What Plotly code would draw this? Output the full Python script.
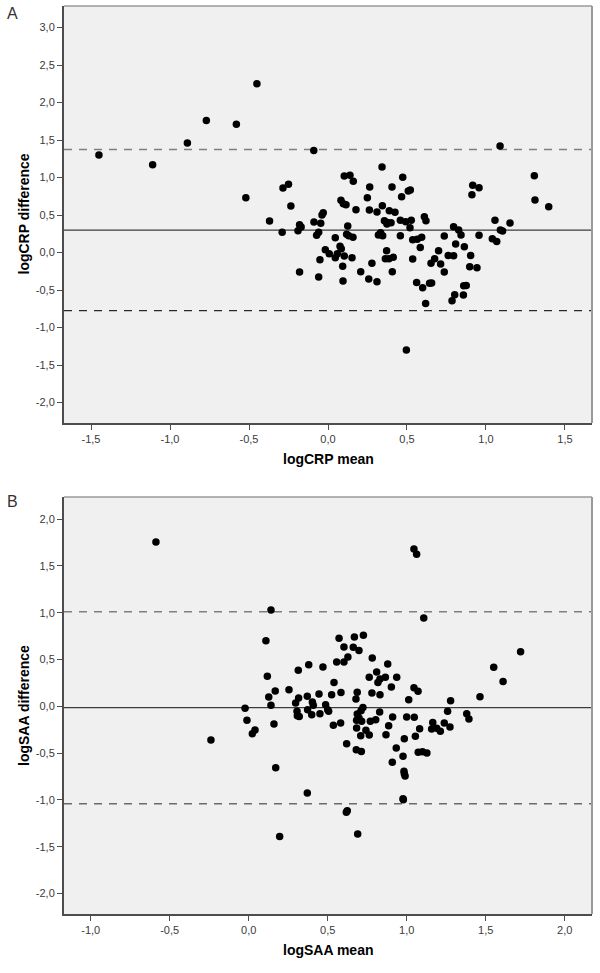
import plotly.graph_objects as go

# ---------------- Data: panel A (logCRP) ----------------
crp_mean = [
    -1.45, -1.11, -0.89, -0.77, -0.58, -0.45, -0.52, -0.37, -0.285, -0.25, -0.235, -0.29, -0.19, -0.18, -0.17, -0.18, -0.09,
    -0.089, -0.046, -0.038, -0.030, -0.059, -0.072, -0.051, -0.059, -0.017, 0.008, 0.046, 0.046, 0.059, 0.076, 0.084,
    0.103, 0.093, 0.095, 0.152, 0.118, 0.131, 0.158, 0.125, 0.082, 0.097, 0.114, 0.103, 0.139, 0.160, 0.177, 0.207,
    0.258, 0.278, 0.310, 0.249, 0.264, 0.262, 0.310, 0.342, 0.344, 0.319, 0.333, 0.346, 0.357, 0.373, 0.375, 0.388,
    0.399, 0.424, 0.371, 0.363, 0.386, 0.413, 0.407, 0.405, 0.473, 0.466, 0.508, 0.521, 0.458, 0.492, 0.527, 0.519,
    0.458, 0.536, 0.565, 0.593, 0.584, 0.536, 0.610, 0.620, 0.561, 0.599, 0.618,
    0.652, 0.643, 0.656, 0.700, 0.675, 0.713, 0.736, 0.736, 0.761, 0.795, 0.795, 0.827, 0.842, 0.808, 0.863, 0.903,
    0.897, 0.943, 0.956, 0.911, 0.916, 0.956, 1.057, 1.091, 1.105, 1.040, 1.068, 1.152, 1.306, 1.310, 1.397,
    0.785, 0.802, 0.857, 0.859, 0.875, 0.496, 1.089,
]
crp_diff = [
    1.30, 1.17, 1.46, 1.76, 1.71, 2.25, 0.73, 0.42, 0.86, 0.91, 0.62, 0.27, 0.29, 0.37, 0.34, -0.26, 1.36,
    0.407, 0.389, 0.50, 0.531, 0.269, 0.229, -0.096, -0.327, 0.037, -0.016, 0.197, -0.069, -0.016, 0.083, 0.051,
    -0.047, -0.184, -0.38, -0.069, 0.243, 0.224, 0.203, 0.353, 0.696, 0.651, 0.638, 1.02, 1.029, 0.949, 0.571, -0.256,
    -0.353, -0.144, -0.389, 0.731, 0.873, 0.567, 0.54, 1.14, 0.624, 0.233, 0.264, 0.224, 0.424, 0.38, 0.40, 0.558,
    0.398, 0.536, 0.024, -0.082, -0.082, -0.064, -0.256, 0.873, 1.003, 0.744, 0.82, 0.833, 0.429, 0.411, 0.429, 0.331,
    0.224, 0.171, 0.176, 0.203, 0.069, -0.087, 0.478, 0.424, -0.398, -0.469, -0.678,
    -0.144, -0.41, -0.405, 0.024, -0.082, -0.153, -0.26, 0.22, -0.038, -0.042, 0.344, 0.30, 0.233, 0.113, 0.078, -0.038,
    -0.189, -0.202, 0.229, 0.771, 0.896, 0.865, 0.429, 0.30, 0.287, 0.184, 0.149, 0.393, 1.024, 0.70, 0.611,
    -0.642, -0.562, -0.567, -0.442, -0.438, -1.30, 1.42,
]
crp_bias = 0.30
crp_upper = 1.375
crp_lower = -0.775

# ---------------- Data: panel B (logSAA) ----------------
saa_mean = [
    -0.587, -0.239, -0.023, -0.011, 0.040, 0.023, 0.141, 0.109, 0.118, 0.168, 0.127, 0.141, 0.160, 0.171, 0.196,
    0.255, 0.314, 0.297, 0.306, 0.308, 0.32, 0.316, 0.371, 0.38, 0.47, 0.445, 0.525, 0.54, 0.584, 0.572, 0.603,
    0.669, 0.726, 0.662, 0.698, 0.628, 0.603, 0.557, 0.403, 0.409, 0.373, 0.399, 0.451, 0.487, 0.50, 0.506, 0.536,
    0.582, 0.687, 0.679, 0.723, 0.711, 0.687, 0.698, 0.683, 0.715, 0.683, 0.742, 0.709, 0.763, 0.620, 0.681, 0.713,
    0.782, 0.88, 0.81, 0.763, 0.831, 0.818, 0.865, 0.937, 0.903, 0.78, 0.831, 0.77, 0.804, 0.829, 0.911, 0.886,
    0.869, 0.985, 0.934, 0.977, 0.909, 0.983, 0.985, 0.99, 1.0, 1.048, 1.082, 1.055, 1.046, 1.072, 1.013, 1.073,
    1.10, 1.128, 1.108, 1.046, 1.063, 1.165, 1.158, 1.19, 1.213, 1.238, 1.259, 1.274, 1.278, 1.38, 1.394, 1.464,
    1.551, 1.61, 1.721, 0.371, 0.618, 0.624, 0.69, 0.977, 0.979,
]
saa_diff = [
    1.755, -0.36, -0.022, -0.15, -0.253, -0.293, 1.029, 0.70, 0.32, 0.163, 0.10, 0.01, -0.19, -0.656, -1.39,
    0.177, 0.384, 0.035, -0.054, -0.10, -0.108, 0.089, 0.106, 0.444, 0.42, 0.131, 0.124, 0.255, 0.148, 0.726, 0.633,
    0.740, 0.758, 0.63, 0.597, 0.527, 0.473, 0.473, 0.046, 0.01, -0.036, -0.09, -0.079, 0.017, -0.036, -0.054, -0.204,
    -0.179, 0.149, 0.078, -0.012, -0.047, -0.083, -0.125, -0.15, -0.161, -0.232, -0.257, -0.314, -0.307, -0.40, -0.464, -0.482,
    0.516, 0.452, 0.366, 0.309, 0.291, 0.255, 0.309, 0.309, 0.206, 0.142, 0.124, -0.161, -0.143, -0.061, -0.114, -0.207,
    -0.303, -0.346, -0.446, -0.535, -0.599, -0.695, -0.72, -0.745, -0.114, -0.118, -0.239, -0.321, 0.199, 0.16, 0.07, -0.492,
    -0.485, -0.50, 0.943, 1.68, 1.623, -0.172, -0.243, -0.236, -0.268, -0.179, -0.054, -0.221, 0.06, -0.079, -0.136, 0.103,
    0.416, 0.266, 0.583, -0.926, -1.133, -1.115, -1.364, -0.987, -0.998,
]
saa_bias = -0.015
saa_upper = 1.01
saa_lower = -1.04

# ---------------- Tick labels ----------------
crp_xticks = [-1.5, -1.0, -0.5, 0.0, 0.5, 1.0, 1.5]
crp_xlabels = ["-1,5", "-1,0", "-0,5", "0,0", "0,5", "1,0", "1,5"]
crp_yticks = [-2.0, -1.5, -1.0, -0.5, 0.0, 0.5, 1.0, 1.5, 2.0, 2.5, 3.0]
crp_ylabels = ["-2,0", "-1,5", "-1,0", "-0,5", "0,0", "0,5", "1,0", "1,5", "2,0", "2,5", "3,0"]
saa_xticks = [-1.0, -0.5, 0.0, 0.5, 1.0, 1.5, 2.0]
saa_xlabels = ["-1,0", "-0,5", "0,0", "0,5", "1,0", "1,5", "2,0"]
saa_yticks = [-2.0, -1.5, -1.0, -0.5, 0.0, 0.5, 1.0, 1.5, 2.0]
saa_ylabels = ["-2,0", "-1,5", "-1,0", "-0,5", "0,0", "0,5", "1,0", "1,5", "2,0"]

FONT = "Liberation Sans, Arial, sans-serif"
AXIS_DARK = "#4d4d4d"
FRAME_LIGHT = "#9a9a9a"

fig = go.Figure()

marker = dict(color="black", size=7.5, line=dict(width=0))
fig.add_trace(go.Scatter(x=crp_mean, y=crp_diff, mode="markers", marker=marker,
                         xaxis="x", yaxis="y", showlegend=False, hoverinfo="x+y"))
fig.add_trace(go.Scatter(x=saa_mean, y=saa_diff, mode="markers", marker=marker,
                         xaxis="x2", yaxis="y2", showlegend=False, hoverinfo="x+y"))

def axis_common(tickvals, ticktext, rng):
    return dict(
        range=rng, tickmode="array", tickvals=tickvals, ticktext=ticktext,
        showgrid=False, zeroline=False, showline=True, linecolor=AXIS_DARK, linewidth=2,
        ticks="outside", ticklen=5, tickwidth=1, tickcolor=AXIS_DARK,
        tickfont=dict(family=FONT, size=11, color="#3a3a3a"),
    )

fig.update_layout(
    width=600, height=973,
    margin=dict(l=64, r=8, t=6, b=59),
    paper_bgcolor="white",
    plot_bgcolor="#f0f0f0",
    showlegend=False,
    xaxis=dict(**axis_common(crp_xticks, crp_xlabels, [-1.671, 1.671]), anchor="y", domain=[0, 1]),
    yaxis=dict(**axis_common(crp_yticks, crp_ylabels, [-2.273, 3.287]), anchor="x", domain=[0.5407, 1.0]),
    xaxis2=dict(**axis_common(saa_xticks, saa_xlabels, [-1.169, 2.173]), anchor="y2", domain=[0, 1]),
    yaxis2=dict(**axis_common(saa_yticks, saa_ylabels, [-2.219, 2.236]), anchor="x2", domain=[0.0, 0.4593]),
)

shapes = []
# light frame on top and right of each plot
for xr, yr in (("x domain", "y domain"), ("x2 domain", "y2 domain")):
    shapes.append(dict(type="line", xref=xr, yref=yr, x0=0, x1=1, y0=1, y1=1,
                       line=dict(color=FRAME_LIGHT, width=1.5)))
    shapes.append(dict(type="line", xref=xr, yref=yr, x0=1, x1=1, y0=0, y1=1,
                       line=dict(color=FRAME_LIGHT, width=2)))

def hline(xr, yr, y, color, dash, width=1.2):
    return dict(type="line", xref=xr, yref=yr, x0=0, x1=1, y0=y, y1=y,
                line=dict(color=color, width=width, dash=dash), layer="below")

shapes.append(hline("x domain", "y", crp_bias, "#3c3c3c", "solid"))
shapes.append(hline("x domain", "y", crp_upper, "#7f7f7f", "8px,7px", 1.5))
shapes.append(hline("x domain", "y", crp_lower, "#2a2a2a", "8px,7px", 1.2))
shapes.append(hline("x2 domain", "y2", saa_bias, "#3c3c3c", "solid"))
shapes.append(hline("x2 domain", "y2", saa_upper, "#7f7f7f", "8px,7px", 1.5))
shapes.append(hline("x2 domain", "y2", saa_lower, "#6a6a6a", "8px,7px", 1.5))
fig.update_layout(shapes=shapes)

title_font = dict(family=FONT, size=14, color="black")
annotations = [
    dict(text="A", xref="paper", yref="paper", x=(12 - 64) / 528, y=(914 - 14) / 908,
         showarrow=False, font=dict(family=FONT, size=16, color="#333"), xanchor="center", yanchor="middle"),
    dict(text="B", xref="paper", yref="paper", x=(12 - 64) / 528, y=(914 - 501) / 908,
         showarrow=False, font=dict(family=FONT, size=16, color="#333"), xanchor="center", yanchor="middle"),
    dict(text="<b>logCRP difference</b>", xref="paper", yref="paper", x=(24 - 64) / 528,
         y=(914 - 214.5) / 908, textangle=-90, showarrow=False, font=title_font,
         xanchor="center", yanchor="middle"),
    dict(text="<b>logCRP mean</b>", xref="paper", yref="paper", x=0.5, y=(914 - 459) / 908,
         showarrow=False, font=title_font, xanchor="center", yanchor="middle"),
    dict(text="<b>logSAA difference</b>", xref="paper", yref="paper", x=(24 - 64) / 528,
         y=(914 - 706) / 908, textangle=-90, showarrow=False, font=title_font,
         xanchor="center", yanchor="middle"),
    dict(text="<b>logSAA mean</b>", xref="paper", yref="paper", x=0.5, y=(914 - 950) / 908,
         showarrow=False, font=title_font, xanchor="center", yanchor="middle"),
]
fig.update_layout(annotations=annotations)

# remove the browser's default page margin so the 600x973 figure fills the window exactly
fig.write_html(
    "out.html",
    config={"displayModeBar": False},
    post_script="document.body.style.margin='0';document.body.style.padding='0';"
                "document.body.style.overflow='hidden';",
)
